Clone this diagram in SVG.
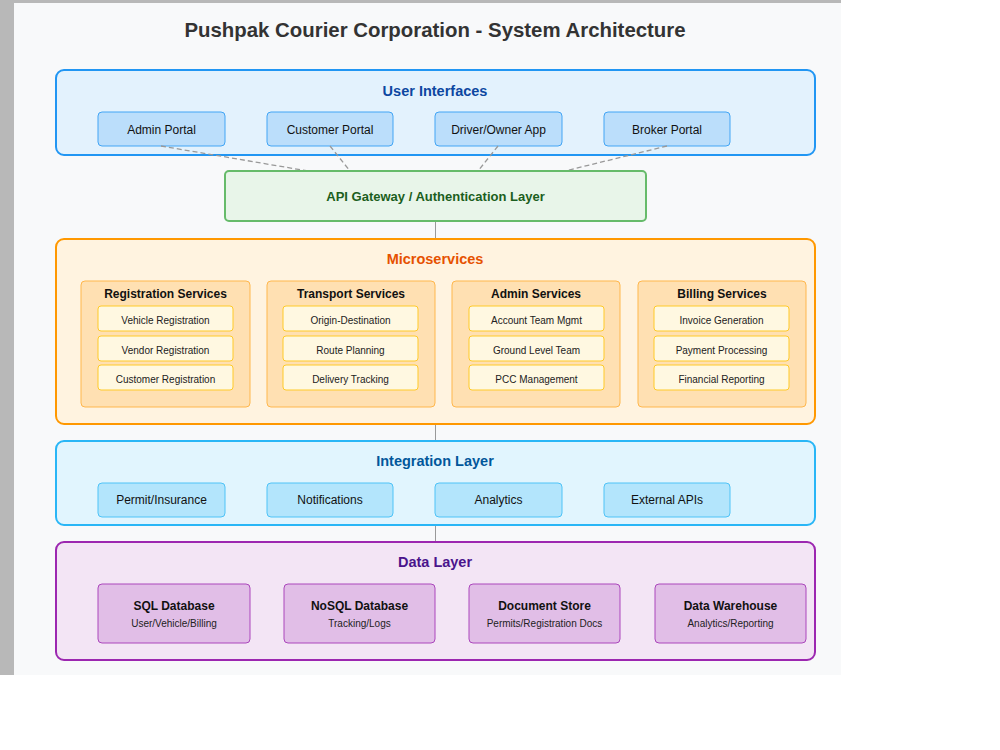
<svg xmlns="http://www.w3.org/2000/svg" width="1000" height="750" viewBox="0 0 1000 750">
<style>
text{font-family:"Liberation Sans",Arial,sans-serif;text-anchor:middle}
.title{font-size:20.4px;font-weight:bold;fill:#333}
.lt{font-size:14.5px;font-weight:bold}
.ui{fill:#bbdefb;stroke:#42a5f5;stroke-width:1}
.it{font-size:12px;fill:#111}
.grp{fill:#ffe0b2;stroke:#ffb74d;stroke-width:1}
.gt{font-size:12px;font-weight:bold;fill:#111}
.sub{fill:#fff8e1;stroke:#ffca28;stroke-width:1}
.st{font-size:10px;fill:#222}
.int{fill:#b3e5fc;stroke:#4fc3f7;stroke-width:1}
.db{fill:#e1bee7;stroke:#ab47bc;stroke-width:1}
.dbt{font-size:12px;font-weight:bold;fill:#111}
.dbs{font-size:10px;fill:#222}
.dash{stroke:#999;stroke-width:1.3;stroke-dasharray:5,3;fill:none}
.solid{stroke:#999;stroke-width:1;fill:none}
</style>
<rect x="0" y="0" width="1000" height="750" fill="#ffffff"/>
<rect x="0" y="0" width="841" height="675" fill="#b8b8b8"/>
<rect x="14" y="3" width="827" height="672" fill="#f8f9fa"/>
<text class="title" x="435" y="37">Pushpak Courier Corporation - System Architecture</text>

<g id="user-interfaces">
<rect x="56" y="70" width="759" height="85" rx="8" fill="#e3f2fd" stroke="#2196f3" stroke-width="2"/>
<text class="lt" x="435" y="96" fill="#0d47a1">User Interfaces</text>
</g>
<g id="admin-portal"><rect class="ui" x="98" y="112" width="127" height="34" rx="4"/><text class="it" x="161.5" y="134">Admin Portal</text></g>
<g id="customer-portal"><rect class="ui" x="267" y="112" width="126" height="34" rx="4"/><text class="it" x="330" y="134">Customer Portal</text></g>
<g id="driver-app"><rect class="ui" x="435" y="112" width="127" height="34" rx="4"/><text class="it" x="498.5" y="134">Driver/Owner App</text></g>
<g id="broker-portal"><rect class="ui" x="604" y="112" width="126" height="34" rx="4"/><text class="it" x="667" y="134">Broker Portal</text></g>

<g id="connectors">
<line class="dash" x1="161" y1="146" x2="308" y2="171"/>
<line class="dash" x1="330" y1="146" x2="350" y2="171"/>
<line class="dash" x1="498" y1="146" x2="478" y2="171"/>
<line class="dash" x1="667" y1="146" x2="565" y2="171"/>
<line class="solid" x1="435.5" y1="221" x2="435.5" y2="239"/>
<line class="solid" x1="435.5" y1="424" x2="435.5" y2="441"/>
<line class="solid" x1="435.5" y1="525" x2="435.5" y2="542"/>
</g>

<g id="api-gateway">
<rect x="225" y="171" width="421" height="50" rx="4" fill="#e8f5e9" stroke="#66bb6a" stroke-width="2"/>
<text x="435.5" y="201" font-size="13px" font-weight="bold" fill="#1b5e20">API Gateway / Authentication Layer</text>
</g>

<g id="microservices">
<rect x="56" y="239" width="759" height="185" rx="8" fill="#fff3e0" stroke="#ff9800" stroke-width="2"/>
<text class="lt" x="435" y="264" fill="#e65100">Microservices</text>
</g>
<g id="registration-services">
<rect class="grp" x="81" y="281" width="169" height="126" rx="4"/>
<text class="gt" x="165.5" y="298">Registration Services</text>
<rect class="sub" x="98" y="306" width="135" height="25" rx="3"/><text class="st" x="165.5" y="323.5">Vehicle Registration</text>
<rect class="sub" x="98" y="336" width="135" height="25" rx="3"/><text class="st" x="165.5" y="353.5">Vendor Registration</text>
<rect class="sub" x="98" y="365" width="135" height="25" rx="3"/><text class="st" x="165.5" y="382.5">Customer Registration</text>
</g>
<g id="transport-services">
<rect class="grp" x="267" y="281" width="168" height="126" rx="4"/>
<text class="gt" x="351" y="298">Transport Services</text>
<rect class="sub" x="283" y="306" width="135" height="25" rx="3"/><text class="st" x="350.5" y="323.5">Origin-Destination</text>
<rect class="sub" x="283" y="336" width="135" height="25" rx="3"/><text class="st" x="350.5" y="353.5">Route Planning</text>
<rect class="sub" x="283" y="365" width="135" height="25" rx="3"/><text class="st" x="350.5" y="382.5">Delivery Tracking</text>
</g>
<g id="admin-services">
<rect class="grp" x="452" y="281" width="168" height="126" rx="4"/>
<text class="gt" x="536" y="298">Admin Services</text>
<rect class="sub" x="469" y="306" width="135" height="25" rx="3"/><text class="st" x="536.5" y="323.5">Account Team Mgmt</text>
<rect class="sub" x="469" y="336" width="135" height="25" rx="3"/><text class="st" x="536.5" y="353.5">Ground Level Team</text>
<rect class="sub" x="469" y="365" width="135" height="25" rx="3"/><text class="st" x="536.5" y="382.5">PCC Management</text>
</g>
<g id="billing-services">
<rect class="grp" x="638" y="281" width="168" height="126" rx="4"/>
<text class="gt" x="722" y="298">Billing Services</text>
<rect class="sub" x="654" y="306" width="135" height="25" rx="3"/><text class="st" x="721.5" y="323.5">Invoice Generation</text>
<rect class="sub" x="654" y="336" width="135" height="25" rx="3"/><text class="st" x="721.5" y="353.5">Payment Processing</text>
<rect class="sub" x="654" y="365" width="135" height="25" rx="3"/><text class="st" x="721.5" y="382.5">Financial Reporting</text>
</g>

<g id="integration-layer">
<rect x="56" y="441" width="759" height="84" rx="8" fill="#e1f5fe" stroke="#29b6f6" stroke-width="2"/>
<text class="lt" x="435" y="466" fill="#01579b">Integration Layer</text>
</g>
<g id="permit-insurance"><rect class="int" x="98" y="483" width="127" height="34" rx="4"/><text class="it" x="161.5" y="504">Permit/Insurance</text></g>
<g id="notifications"><rect class="int" x="267" y="483" width="126" height="34" rx="4"/><text class="it" x="330" y="504">Notifications</text></g>
<g id="analytics"><rect class="int" x="435" y="483" width="127" height="34" rx="4"/><text class="it" x="498.5" y="504">Analytics</text></g>
<g id="external-apis"><rect class="int" x="604" y="483" width="126" height="34" rx="4"/><text class="it" x="667" y="504">External APIs</text></g>

<g id="data-layer">
<rect x="56" y="542" width="759" height="118" rx="8" fill="#f3e5f5" stroke="#9c27b0" stroke-width="2"/>
<text class="lt" x="435" y="567" fill="#4a148c">Data Layer</text>
</g>
<g id="sql-db"><rect class="db" x="98" y="584" width="152" height="59" rx="4"/><text class="dbt" x="174" y="610">SQL Database</text><text class="dbs" x="174" y="627">User/Vehicle/Billing</text></g>
<g id="nosql-db"><rect class="db" x="284" y="584" width="151" height="59" rx="4"/><text class="dbt" x="359.5" y="610">NoSQL Database</text><text class="dbs" x="359.5" y="627">Tracking/Logs</text></g>
<g id="document-store"><rect class="db" x="469" y="584" width="151" height="59" rx="4"/><text class="dbt" x="544.5" y="610">Document Store</text><text class="dbs" x="544.5" y="627">Permits/Registration Docs</text></g>
<g id="data-warehouse"><rect class="db" x="655" y="584" width="151" height="59" rx="4"/><text class="dbt" x="730.5" y="610">Data Warehouse</text><text class="dbs" x="730.5" y="627">Analytics/Reporting</text></g>
</svg>
